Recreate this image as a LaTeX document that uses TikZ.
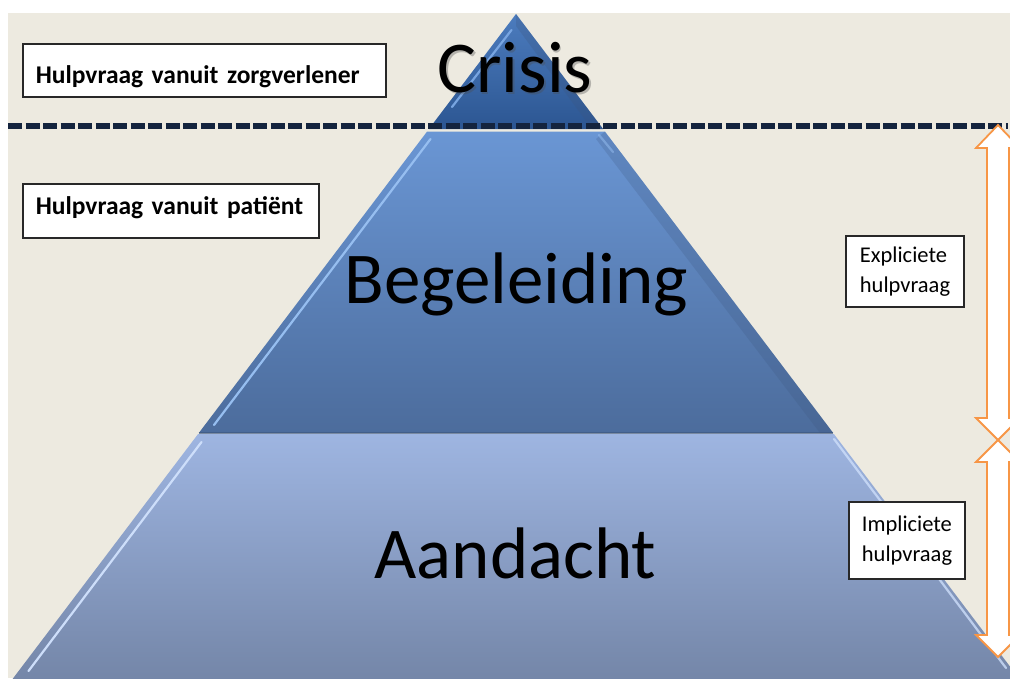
\documentclass[tikz,border=0pt]{standalone}
\usepackage{fontspec}
\setmainfont{Carlito}
\newfontfamily\labelfont[WordSpace=0.7]{Carlito}
\definecolor{bgbeige}{RGB}{237,234,224}
\definecolor{dashnavy}{RGB}{20,36,62}
\definecolor{arroworange}{RGB}{247,150,70}
\definecolor{boxline}{RGB}{40,40,40}
% layer colours
\definecolor{crisTop}{RGB}{76,124,190}
\definecolor{crisBot}{RGB}{44,86,146}
\definecolor{crisHi}{RGB}{120,165,225}
\definecolor{begTop}{RGB}{106,150,212}
\definecolor{begBot}{RGB}{76,108,156}
\definecolor{begHi}{RGB}{150,190,240}
\definecolor{aanTop}{RGB}{158,181,225}
\definecolor{aanBot}{RGB}{116,134,168}
\definecolor{aanHi}{RGB}{205,222,250}
\definecolor{layerShade}{RGB}{60,85,125}
\begin{document}
\begin{tikzpicture}[x=1pt,y=-1pt,
  bigtxt/.style={font=\fontsize{73}{80}\selectfont, text=black, inner sep=0pt},
  leftbox/.style={draw=boxline, line width=1.6pt, fill=white, inner ysep=0pt,
    inner xsep=13pt, anchor=north west, align=left,
    font=\labelfont\bfseries\fontsize{25.5}{30}\selectfont},
  sidebox/.style={draw=boxline, line width=1.6pt, fill=white, inner sep=0pt,
    align=left, font=\labelfont\fontsize{22.5}{30}\selectfont},
  dblarrow/.style={draw=arroworange, line width=1.8pt, fill=white, line join=miter},
  hilite/.style={line width=2.2pt, line cap=round},
]
\useasboundingbox (0,0) rectangle (1010,678);
\fill[white] (0,0) rectangle (1010,678);
\fill[bgbeige] (8,13) rectangle (1010,678);
\clip (0,0) rectangle (1010,678);

% ---- bottom layer: Aandacht
\path[top color=aanTop, bottom color=aanBot]
  (198.1,434) -- (833.9,434) -- (1020.2,680) -- (11.8,680) -- cycle;
\draw[hilite, aanHi] (201.5,442) -- (28.5,671);
\draw[hilite, aanHi, opacity=0.8] (834,439) -- (1006,668);

% ---- middle layer: Begeleiding
\path[top color=begTop, bottom color=begBot]
  (427.1,131.5) -- (604.9,131.5) -- (833.2,433) -- (198.8,433) -- cycle;
\fill[layerShade, opacity=0.22]
  (604.9,131.5) -- (833.2,433) -- (820,433) -- (596,139) -- cycle;
\draw[hilite, begHi] (430.5,139) -- (214,425);
\draw[hilite, begHi, opacity=0.5] (599,135) -- (613,152);
\draw[layerShade, line width=1.2pt, opacity=0.6] (198.8,433) -- (833.2,433);

% ---- top layer: Crisis
\path[top color=crisTop, bottom color=crisBot]
  (516,14) -- (603.1,129) -- (428.9,129) -- cycle;
\fill[layerShade, opacity=0.25]
  (516,14) -- (603.1,129) -- (592,129) -- (516,26) -- cycle;
\draw[hilite, crisHi] (511.5,30) -- (452,107);

% ---- level labels
\node[bigtxt, text=black!70, opacity=0.35, anchor=base] (crisisshadow) at (516.5,94) {Crisis};
\node[bigtxt, anchor=base] (crisis) at (515,92) {Crisis};
\node[bigtxt, anchor=base] (begeleiding) at (516.5,303) {Begeleiding};
\node[bigtxt, anchor=base] (aandacht) at (515.5,578) {Aandacht};

% ---- separator between care-provider and patient requests
\draw[dashnavy, line width=5.5pt, dash pattern=on 14pt off 3.5pt] (8,126) -- (1008,126);

% ---- double arrows on the right
\draw[dblarrow] (998,125) -- (1020,148) -- (1009,148) -- (1009,418) -- (1020,418)
  -- (998,440) -- (976,418) -- (987,418) -- (987,148) -- (976,148) -- cycle;
\draw[dblarrow] (998,440) -- (1020,462) -- (1009,462) -- (1009,635) -- (1020,635)
  -- (998,657) -- (976,635) -- (987,635) -- (987,462) -- (976,462) -- cycle;

% ---- text boxes
\node[leftbox, text width=337pt, text height=40pt, text depth=13pt] (zorg) at (22,43)
  {Hulpvraag vanuit zorgverlener};
\node[leftbox, text width=270pt, text height=31pt, text depth=23pt] (pat) at (22,183)
  {Hulpvraag vanuit patiënt};
\node[sidebox, minimum width=118pt, minimum height=71pt] (expl) at (905,271.5)
  {Expliciete\\hulpvraag};
\node[sidebox, minimum width=116pt, minimum height=77pt] (impl) at (907,540.5)
  {Impliciete\\hulpvraag};
\end{tikzpicture}
\end{document}
